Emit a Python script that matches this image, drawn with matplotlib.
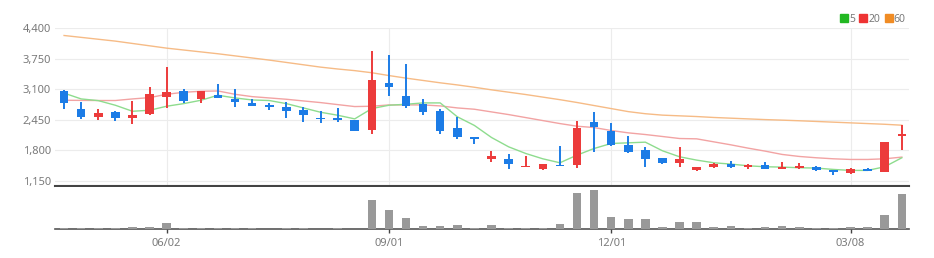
"""
Grafico semanal de velas con medias moviles (5, 20, 60) y volumen.
"""

import matplotlib

matplotlib.use("Agg")
import matplotlib.pyplot as plt
from matplotlib.lines import Line2D
from matplotlib.ticker import FuncFormatter

plt.rcParams["font.family"] = ["Noto Sans", "DejaVu Sans"]

# valores (semanas 0..49)
opens = [3066, 2690, 2512, 2619, 2484, 2569, 2945, 3059, 2889, 2981, 2903, 2810, 2761, 2718, 2669, 2497, 2491,
         2449, 2229, 3236, 2967, 2796, 2640, 2286, 2073, 1618, 1611, 1441, 1397, 1490, 1476, 2413, 2222, 1910,
         1810, 1625, 1526, 1370, 1441, 1512, 1441, 1491, 1400, 1427, 1448, 1370, 1316, 1394, 1342, 2108]
closes = [2810, 2505, 2605, 2498, 2548, 2995, 3052, 2846, 3059, 2924, 2825, 2747, 2733, 2640, 2555, 2470, 2456,
          2214, 3293, 3144, 2754, 2626, 2208, 2080, 2051, 1668, 1505, 1469, 1510, 1460, 2285, 2307, 1908, 1760,
          1611, 1519, 1611, 1441, 1505, 1441, 1476, 1406, 1441, 1462, 1370, 1342, 1400, 1366, 1966, 2137]
highs = [3080, 2825, 2676, 2630, 2846, 3151, 3584, 3116, 3070, 3208, 3109, 2903, 2817, 2825, 2733, 2633, 2697,
         2455, 3917, 3832, 3641, 2903, 2690, 2512, 2073, 1789, 1711, 1675, 1515, 1888, 2427, 2626, 2385, 2101,
         1860, 1640, 1867, 1450, 1530, 1576, 1505, 1540, 1547, 1519, 1470, 1375, 1420, 1427, 1970, 2342]
lows = [2690, 2477, 2441, 2434, 2356, 2560, 2711, 2803, 2818, 2920, 2725, 2740, 2669, 2497, 2399, 2392, 2399,
        2207, 2143, 2952, 2711, 2562, 2137, 2037, 1924, 1555, 1397, 1440, 1384, 1455, 1413, 1767, 1881, 1732,
        1448, 1510, 1448, 1365, 1427, 1427, 1390, 1398, 1395, 1398, 1363, 1262, 1292, 1360, 1340, 1810]
volumes = [1.6, 1.1, 1.1, 1.1, 1.9, 2.7, 6.3, 1.1, 1.1, 1.1, 1.1, 1.1, 0.6, 1.1, 1.1, 0.6, 1.1, 0.6, 28.3, 19.0,
           10.7, 3.0, 3.0, 4.0, 1.1, 3.7, 1.1, 1.2, 1.1, 5.3, 35.0, 38.3, 12.0, 10.0, 10.0, 1.9, 7.0, 7.0, 2.3,
           3.0, 1.5, 1.9, 3.0, 1.9, 1.5, 1.5, 1.9, 1.9, 14.3, 34.3]
ma5 = [3020, 2896, 2860, 2761, 2633, 2654, 2740, 2796, 2867, 2974, 2917, 2874, 2862, 2796, 2704, 2612, 2548, 2470,
       2690, 2761, 2782, 2811, 2811, 2515, 2330, 2073, 1874, 1732, 1618, 1533, 1696, 1838, 1945, 1959, 1973, 1789,
       1661, 1590, 1533, 1505, 1469, 1448, 1441, 1427, 1420, 1391, 1370, 1370, 1448, 1640]
ma20 = [2867, 2865, 2862, 2862, 2896, 2924, 2995, 3038, 3059, 3066, 2995, 2945, 2917, 2889, 2853, 2818, 2775,
        2733, 2740, 2768, 2768, 2768, 2747, 2704, 2676, 2619, 2562, 2498, 2434, 2370, 2314, 2285, 2222, 2172,
        2136, 2094, 2051, 2044, 1980, 1916, 1846, 1782, 1711, 1668, 1640, 1618, 1604, 1604, 1618, 1654]
ma60 = [4250, 4210, 4170, 4130, 4080, 4030, 3980, 3940, 3900, 3860, 3815, 3770, 3725, 3675, 3625, 3575, 3535,
        3500, 3455, 3395, 3340, 3290, 3240, 3195, 3145, 3090, 3040, 2990, 2935, 2880, 2820, 2755, 2690, 2625,
        2580, 2550, 2535, 2520, 2500, 2485, 2470, 2455, 2443, 2430, 2415, 2400, 2385, 2370, 2355, 2335]
tick_index = [6, 19, 32, 46]
tick_labels = ["06/02", "09/01", "12/01", "03/08"]
price_ticks = [1150, 1800, 2450, 3100, 3750, 4400]

UP_COLOR = "#ec3b3b"
DOWN_COLOR = "#1c7ce6"
TEXT_COLOR = "#7a7a7a"
GRID_COLOR = "#ececec"


def draw_candles(axis) -> None:
    for i, (o, h, l, c) in enumerate(zip(opens, highs, lows, closes)):
        color = UP_COLOR if c > o else DOWN_COLOR
        axis.vlines(i, l, h, color=color, linewidth=1.4, zorder=3)
        bottom = min(o, c)
        height = max(abs(c - o), 12)
        axis.bar(i, height, bottom=bottom, width=0.5, color=color, linewidth=0, zorder=4)


def main() -> None:
    figure = plt.figure(figsize=(9.34, 2.58), dpi=100)
    price_ax = figure.add_axes([55 / 934, 72.5 / 258, 854 / 934, 157.5 / 258])
    volume_ax = figure.add_axes([55 / 934, 28.7 / 258, 854 / 934, 42.3 / 258])

    x = list(range(len(closes)))
    price_ax.plot(x, ma60, color="#f6bb86", linewidth=1.0, zorder=2)
    price_ax.plot(x, ma20, color="#f2a3a3", linewidth=1.0, zorder=2)
    price_ax.plot(x, ma5, color="#8edc8e", linewidth=1.0, zorder=2)
    draw_candles(price_ax)

    price_ax.set_xlim(-0.53, 49.42)
    price_ax.set_ylim(1048, 4410)
    price_ax.set_yticks(price_ticks)
    price_ax.yaxis.set_major_formatter(FuncFormatter(lambda v, _pos: f"{int(v):,}"))
    price_ax.set_xticks(tick_index)
    price_ax.tick_params(axis="x", length=0, labelbottom=False)
    price_ax.tick_params(axis="y", length=0, pad=3, labelsize=8, labelcolor=TEXT_COLOR)
    price_ax.grid(True, color=GRID_COLOR, linewidth=0.8, zorder=0)
    for side in ["top", "right", "left"]:
        price_ax.spines[side].set_visible(False)
    price_ax.spines["bottom"].set_color("#444444")
    price_ax.spines["bottom"].set_linewidth(1.5)

    volume_ax.bar(x, volumes, width=0.5, color="#999999", linewidth=0, zorder=3)
    volume_ax.set_xlim(-0.53, 49.42)
    volume_ax.set_ylim(0, 41)
    volume_ax.set_yticks([])
    volume_ax.set_xticks(tick_index)
    volume_ax.set_xticklabels(tick_labels)
    volume_ax.tick_params(axis="x", length=3, width=1, color="#444444", pad=3, labelsize=8, labelcolor=TEXT_COLOR)
    for side in ["top", "right", "left"]:
        volume_ax.spines[side].set_visible(False)
    volume_ax.spines["bottom"].set_color("#555555")
    volume_ax.spines["bottom"].set_linewidth(1.2)
    volume_ax.spines["bottom"].set_zorder(2)

    handles = [
        Line2D([], [], marker="s", linestyle="", markersize=5.5, color="#22b822", label="5"),
        Line2D([], [], marker="s", linestyle="", markersize=5.5, color="#ee3333", label="20"),
        Line2D([], [], marker="s", linestyle="", markersize=5.5, color="#f08c24", label="60"),
    ]
    legend = price_ax.legend(
        handles=handles,
        loc="lower right",
        bbox_to_anchor=(1.0, 1.0),
        ncol=3,
        frameon=False,
        fontsize=7.5,
        handlelength=0.6,
        handletextpad=0.2,
        columnspacing=0.5,
        borderaxespad=0.2,
        borderpad=0.1,
    )
    for text in legend.get_texts():
        text.set_color(TEXT_COLOR)

    figure.savefig("out.png", dpi=100)
    plt.close(figure)


if __name__ == "__main__":
    main()
